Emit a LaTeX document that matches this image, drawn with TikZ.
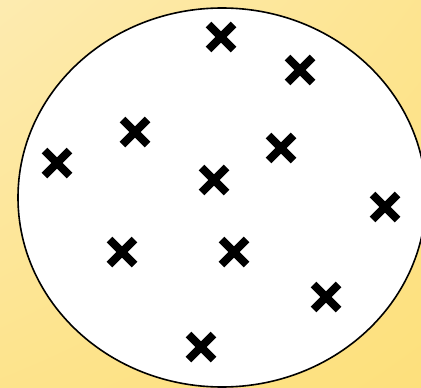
\documentclass[tikz,border=0pt]{standalone}
\usetikzlibrary{shapes.misc,shadings}
\definecolor{bgA}{HTML}{FDEBB0}
\definecolor{bgB}{HTML}{FDE07C}
\tikzset{
  mark x/.style={cross out, draw=black, line width=8pt, minimum size=17pt, inner sep=0pt},
  disc/.style={draw=black, fill=white, line width=1.6pt}
}
\begin{document}
\begin{tikzpicture}[x=1pt,y=-1pt]
\shade[upper left=bgA, upper right=bgB!60!bgA, lower left=bgB!70!bgA, lower right=bgB] (0,0) rectangle (421,388);
\useasboundingbox (0,0) rectangle (421,388);
\draw[disc] (222,197.5) ellipse (204 and 189.5);
\node[mark x] (c1) at (221,37) {};
\node[mark x] (c2) at (300,70) {};
\node[mark x] (c3) at (135,132) {};
\node[mark x] (c4) at (57,163) {};
\node[mark x] (c5) at (281,148) {};
\node[mark x] (c6) at (214,180) {};
\node[mark x] (c7) at (385,207) {};
\node[mark x] (c8) at (122,252) {};
\node[mark x] (c9) at (234,252) {};
\node[mark x] (c10) at (326,297) {};
\node[mark x] (c11) at (201,347) {};
\end{tikzpicture}
\end{document}
